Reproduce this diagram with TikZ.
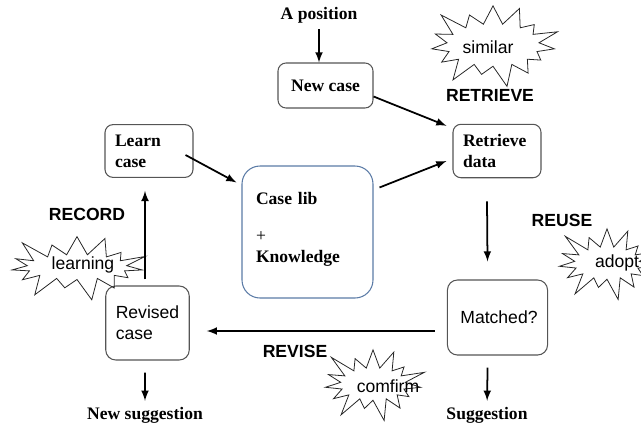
\documentclass[tikz,border=0pt]{standalone}
\usepackage{fontspec}
\setmainfont{Liberation Serif}
\setsansfont{Liberation Sans}
\usetikzlibrary{arrows,shapes,positioning,calc}
\definecolor{box-gray}{HTML}{555555}
\definecolor{lib-blue}{HTML}{5B7BA6}
\tikzset{
  stepbox/.style={draw=box-gray, line width=0.6pt, rounded corners=0.16cm, inner sep=0.2cm, font=\bfseries, align=left},
  burst/.style={starburst, draw=black!85, line width=0.45pt, starburst points=15, starburst point height=0.5cm, inner sep=0pt},
  burst text/.style={font=\sffamily},
  stage/.style={font=\sffamily\bfseries},
  flow/.style={->, >=latex, line width=1pt}
}

\begin{document}
\begin{tikzpicture}
    \useasboundingbox (0,0) rectangle (12.82,-8.54);

    \node[font=\bfseries] (apos) at (6.38,-0.30) {A position};
    \node[stepbox, minimum width=1.90cm, minimum height=0.90cm] (newcase) at (6.51,-1.71) {New case};
    \node[stepbox, text width=1.36cm, minimum height=1.04cm] (retrieve) at (9.94,-3.02) {Retrieve\\data};
    \node[stepbox, text width=1.36cm, minimum height=1.04cm] (learn) at (2.98,-3.02) {Learn\\case};
    \node[stepbox, draw=lib-blue, rounded corners=0.36cm, inner sep=0.28cm, text width=2.06cm, minimum height=2.64cm] (caselib) at (6.15,-4.64) {Case lib\\[0.32cm]{\mdseries +}\\Knowledge\rule[-0.2cm]{0pt}{0pt}};
    \node[stepbox, font=\sffamily, rounded corners=0.2cm, minimum width=1.78cm, minimum height=1.50cm] (matched) at (9.95,-6.35) {\,Matched?};
    \node[stepbox, font=\sffamily, rounded corners=0.2cm, minimum width=1.50cm, minimum height=1.48cm] (revised) at (2.95,-6.46) {Revised\\case};
    \node[font=\bfseries] (suggestion) at (9.74,-8.30) {Suggestion};
    \node[font=\bfseries] (newsugg) at (2.90,-8.30) {New suggestion};

    % stage labels
    \node[stage] (retrieve-lbl) at (9.80,-1.90) {RETRIEVE};
    \node[stage] (reuse-lbl) at (11.24,-4.40) {REUSE};
    \node[stage] (record-lbl) at (1.74,-4.28) {RECORD};
    \node[stage] (revise-lbl) at (5.90,-7.02) {REVISE};

    % bursts
    \node[burst, minimum width=2.85cm, minimum height=1.85cm] (similar-burst) at (9.86,-0.90) {};
    \node[burst text] (similar) at (9.76,-0.94) {similar};
    \node[burst, minimum width=2.30cm, minimum height=1.65cm] (adopt-burst) at (12.14,-5.26) {};
    \node[burst text] (adopt) at (12.34,-5.26) {adopt};
    \node[burst, minimum width=3.00cm, minimum height=1.50cm] (learning-burst) at (1.54,-5.34) {};
    \node[burst text] (learning) at (1.66,-5.30) {learning};
    \node[burst, minimum width=2.30cm, minimum height=1.65cm] (comfirm-burst) at (7.46,-7.68) {};
    \node[burst text] (comfirm) at (7.76,-7.72) {comfirm};

    \draw[flow] (apos) -- (apos |- newcase.north);
    \draw[flow] ([yshift=-0.22cm]newcase.east) -- ([shift={(-0.12,-0.04)}]retrieve.north west);
    \draw[flow] ([shift={(-0.16,-0.08)}]learn.east) -- ([shift={(-0.10,-0.34)}]caselib.north west);
    \draw[flow] ([shift={(0.12,-0.44)}]caselib.north east) -- ([shift={(-0.12,-0.20)}]retrieve.west);
    \draw[flow] ([shift={(-0.20,-0.46)}]retrieve.south) -- ([shift={(-0.20,0.36)}]matched.north);
    \draw[flow] ([shift={(-0.20,-0.24)}]matched.south) -- (suggestion);
    \draw[flow] ([shift={(-0.24,-0.27)}]matched.west) -- ([shift={(0.34,-0.16)}]revised.east);
    \draw[flow] ([shift={(-0.05,0.12)}]revised.north) -- ([shift={(-0.08,-0.26)}]learn.south);
    \draw[flow] ([shift={(-0.05,-0.24)}]revised.south) -- (newsugg);
\end{tikzpicture}
\end{document}
